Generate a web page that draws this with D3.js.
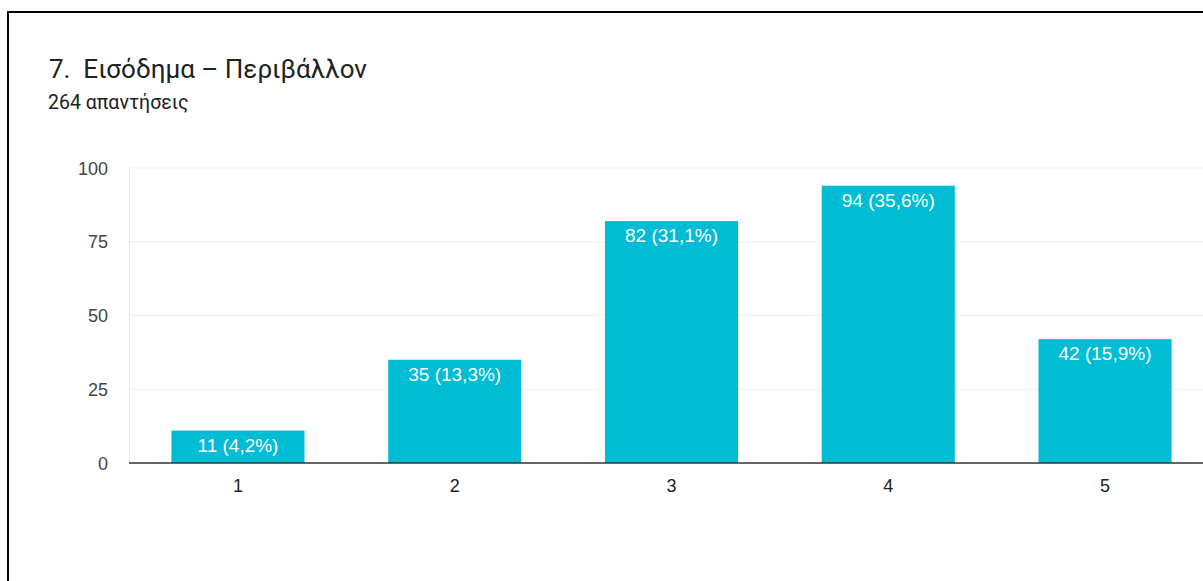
<!DOCTYPE html>
<html>
<head>
<meta charset="utf-8">
<script src="https://cdn.jsdelivr.net/npm/d3@7"></script>
<style>
  body { margin: 0; background: #fff; }
  svg { display: block; font-family: Roboto, Arial, sans-serif; }
  .chart-text { font-family: "Liberation Sans", Arial, sans-serif; }
</style>
</head>
<body>
<div id="chart"></div>
<script>
var categories = ["1", "2", "3", "4", "5"];
var counts = [11, 35, 82, 94, 42];
var labels = ["11 (4,2%)", "35 (13,3%)", "82 (31,1%)", "94 (35,6%)", "42 (15,9%)"];
var yTicks = [0, 25, 50, 75, 100];

var width = 1203,
    height = 581;

var svg = d3.select('#chart').append('svg')
    .attr('width', width)
    .attr('height', height);

// card border, runs off the right and bottom edges
svg.append('rect')
    .attr('x', 8).attr('y', 12)
    .attr('width', 1300).attr('height', 700)
    .attr('fill', 'none')
    .attr('stroke', '#000')
    .attr('stroke-width', 2);

svg.append('text')
    .attr('x', 49).attr('y', 78)
    .attr('font-size', 26)
    .attr('fill', '#202124')
    .attr('xml:space', 'preserve')
    .text('7.  Εισόδημα – Περιβάλλον');

svg.append('text')
    .attr('x', 48).attr('y', 109)
    .attr('font-size', 19.5)
    .attr('fill', '#202124')
    .text('264 απαντήσεις');

var x = d3.scaleBand()
    .domain(categories)
    .range([129.6, 1213.4])
    .paddingInner(0.386)
    .paddingOuter(0.193);

var y = d3.scaleLinear()
    .domain([0, 100])
    .range([463, 168]);

// gridlines
svg.append('g')
    .selectAll('line')
    .data(yTicks.slice(1))
    .enter().append('line')
    .attr('x1', 129).attr('x2', 1215)
    .attr('y1', function(d) { return y(d); })
    .attr('y2', function(d) { return y(d); })
    .attr('stroke', '#ebebeb')
    .attr('stroke-width', 1);

svg.append('line')
    .attr('x1', 129.5).attr('x2', 129.5)
    .attr('y1', y(100)).attr('y2', y(0))
    .attr('stroke', '#ebebeb');

// y tick labels
svg.append('g')
    .attr('class', 'chart-text')
    .selectAll('text')
    .data(yTicks)
    .enter().append('text')
    .attr('x', 108)
    .attr('y', function(d) { return y(d) + 6.5; })
    .attr('text-anchor', 'end')
    .attr('font-size', 18)
    .attr('fill', '#444')
    .text(function(d) { return d; });

var bars = svg.append('g')
    .selectAll('rect')
    .data(counts)
    .enter().append('rect')
    .attr('x', function(d, i) { return x(categories[i]); })
    .attr('y', function(d) { return y(d); })
    .attr('width', x.bandwidth())
    .attr('height', function(d) { return y(0) - y(d); })
    .attr('fill', '#00bcd4');

svg.append('g')
    .attr('class', 'chart-text')
    .selectAll('text')
    .data(counts)
    .enter().append('text')
    .attr('x', function(d, i) { return x(categories[i]) + x.bandwidth() / 2; })
    .attr('y', function(d) { return y(d) + 21; })
    .attr('text-anchor', 'middle')
    .attr('font-size', 19)
    .attr('fill', '#fff')
    .text(function(d, i) { return labels[i]; });

// baseline
svg.append('line')
    .attr('x1', 129).attr('x2', 1215)
    .attr('y1', y(0)).attr('y2', y(0))
    .attr('stroke', '#333')
    .attr('stroke-width', 1.5);

// x tick labels
svg.append('g')
    .attr('class', 'chart-text')
    .selectAll('text')
    .data(categories)
    .enter().append('text')
    .attr('x', function(d) { return x(d) + x.bandwidth() / 2; })
    .attr('y', 492)
    .attr('text-anchor', 'middle')
    .attr('font-size', 18)
    .attr('fill', '#222')
    .text(function(d) { return d; });
</script>
</body>
</html>
